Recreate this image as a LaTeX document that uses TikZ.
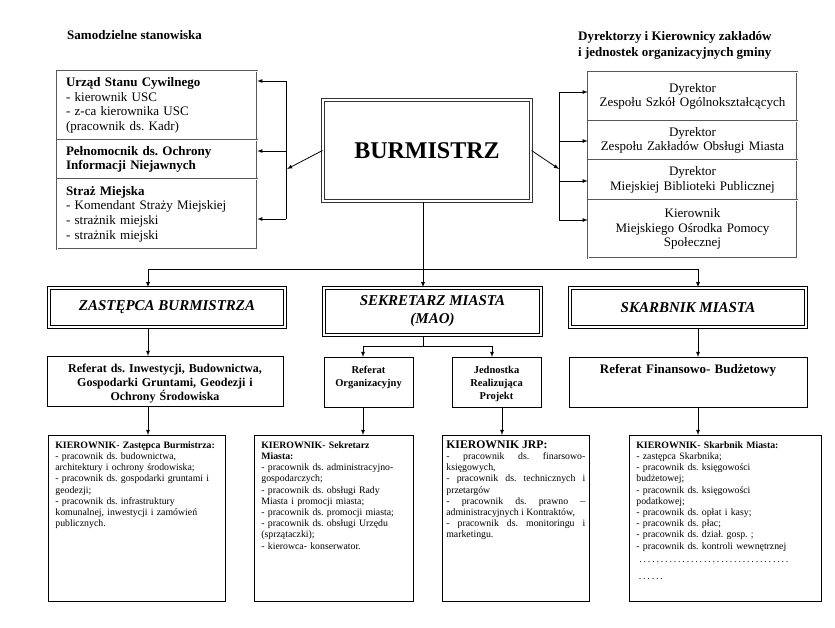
\documentclass[tikz,border=0pt]{standalone}
\usepackage{fontspec}
\setmainfont{Liberation Serif}
\usetikzlibrary{arrows}
\frenchspacing

\begin{document}
\begin{tikzpicture}[x=1pt,y=-1pt]
	\tikzstyle{head}=[inner sep=0pt,font=\bfseries\fontsize{13}{16}\selectfont]
	\tikzstyle{sidebox}=[draw=black!65,line width=0.5pt,double,double distance=0.9pt,inner xsep=9pt,inner ysep=0pt,font=\fontsize{13}{14.6}\selectfont]
	\tikzstyle{chief}=[draw=black!80,line width=1pt,double,double distance=2pt,font=\bfseries\fontsize{24}{28}\selectfont]
	\tikzstyle{deputy}=[draw,line width=1.4pt,double,double distance=1.3pt,align=center,font=\bfseries\itshape\fontsize{15}{18}\selectfont]
	\tikzstyle{unit}=[draw,line width=0.9pt,anchor=north,align=center,inner xsep=5pt,inner ysep=6pt,text height=10pt,text depth=28pt,font=\bfseries\fontsize{12}{14}\selectfont]
	\tikzstyle{staff}=[draw,line width=0.7pt,anchor=north west,align=left,inner xsep=7pt,inner ysep=5pt,text height=8pt,text depth=148pt,font=\fontsize{9.8}{11.2}\selectfont]
	\tikzstyle{link}=[line width=0.8pt]
	\tikzstyle{arr}=[line width=0.8pt,-latex]
	\useasboundingbox (0,0) rectangle (835,627);
	% headings
	\node[head,anchor=base west] (hl) at (67,39) {Samodzielne stanowiska};
	\node[head,anchor=north west,align=left] (hr) at (578,31) {Dyrektorzy i Kierownicy zakładów\\i jednostek organizacyjnych gminy};
	% top row
	\node[chief,minimum width=208pt,minimum height=101pt] (burm) at (427,150.5) {BURMISTRZ};
	\node[sidebox,align=left,text width=182pt,minimum height=69pt] (usc) at (157,105.5) {\textbf{Urząd Stanu Cywilnego}\\- kierownik USC\\- z-ca kierownika USC\\(pracownik ds. Kadr)};
	\node[sidebox,align=left,text width=182pt,minimum height=39pt] (pel) at (157,159.5) {\textbf{Pełnomocnik ds. Ochrony}\\\textbf{Informacji Niejawnych}};
	\node[sidebox,align=left,text width=182pt,minimum height=70pt] (sm) at (157,214) {\textbf{Straż Miejska}\\- Komendant Straży Miejskiej\\- strażnik miejski\\- strażnik miejski};
	\node[sidebox,align=center,text width=191pt,minimum height=49pt] (r1) at (692.5,96.5) {Dyrektor\\Zespołu Szkół Ogólnokształcących};
	\node[sidebox,align=center,text width=191pt,minimum height=39pt] (r2) at (692.5,140.5) {Dyrektor\\Zespołu Zakładów Obsługi Miasta};
	\node[sidebox,align=center,text width=191pt,minimum height=40pt] (r3) at (692.5,180) {Dyrektor\\Miejskiej Biblioteki Publicznej};
	\node[sidebox,align=center,text width=191pt,minimum height=58pt] (r4) at (692.5,229) {Kierownik\\Miejskiego Ośrodka Pomocy\\Społecznej};
	\coordinate (la) at (286,81);
	\coordinate (lb) at (286,151);
	\coordinate (lc) at (286,219);
	\coordinate (lj) at (287,169);
	\draw[link] (la) -- (lc);
	\draw[arr] (la) -- (la -| usc.east);
	\draw[arr] (lb) -- (lb -| pel.east);
	\draw[arr] (lc) -- (lc -| sm.east);
	\draw[arr] (burm.west) -- (lj);
	\coordinate (ra) at (559,92);
	\coordinate (rb) at (559,141);
	\coordinate (rc) at (559,181);
	\coordinate (rd) at (559,220);
	\coordinate (rj) at (559,169);
	\draw[link] (ra) -- (rd);
	\draw[arr] (ra) -- (ra -| r1.west);
	\draw[arr] (rb) -- (rb -| r2.west);
	\draw[arr] (rc) -- (rc -| r3.west);
	\draw[arr] (rd) -- (rd -| r4.west);
	\draw[arr] (burm.east) -- (rj);
	% deputies
	\node[deputy,minimum width=236pt,minimum height=39pt] (zast) at (167,307.5) {ZASTĘPCA BURMISTRZA};
	\node[deputy,minimum width=217pt,minimum height=47pt] (sek) at (432.5,311.5) {SEKRETARZ MIASTA\\(MAO)};
	\node[deputy,minimum width=236pt,minimum height=39pt] (skarb) at (688,307.5) {SKARBNIK MIASTA};
	\coordinate (ca) at (148,269);
	\coordinate (cb) at (698,269);
	\coordinate (cs) at (423,269);
	\draw[link] (ca) -- (cb);
	\draw[arr] (cs |- burm.south) -- (cs |- sek.north);
	\draw[arr] (ca) -- (ca |- zast.north);
	\draw[arr] (cb) -- (cb |- skarb.north);
	% units
	\node[unit,text width=226pt] (ri) at (165,356) {Referat ds. Inwestycji, Budownictwa,\\Gospodarki Gruntami, Geodezji i\\Ochrony Środowiska};
	\node[unit,text width=79pt,font=\bfseries\fontsize{10.5}{13}\selectfont] (ro) at (368.5,357) {Referat\\Organizacyjny};
	\node[unit,text width=79pt,font=\bfseries\fontsize{10.5}{13}\selectfont] (jrp) at (496.5,357) {Jednostka\\Realizująca\\Projekt};
	\node[unit,text width=228pt,font=\bfseries\fontsize{13}{15}\selectfont] (rf) at (688,357) {Referat Finansowo- Budżetowy};
	\coordinate (sj) at (423,346);
	\coordinate (so) at (363,346);
	\coordinate (sr) at (492,346);
	\coordinate (jx) at (502,420);
	\draw[link] (sj |- sek.south) -- (sj);
	\draw[link] (so) -- (sr);
	\draw[arr] (so) -- (so |- ro.north);
	\draw[arr] (sr) -- (sr |- jrp.north);
	\draw[arr] (ca |- zast.south) -- (ca |- ri.north);
	\draw[arr] (cb |- skarb.south) -- (cb |- rf.north);
	% staff
	\node[staff,text width=163pt] (s1) at (48,435) {\textbf{KIEROWNIK- Zastępca Burmistrza:}\\- pracownik ds. budownictwa,\\architektury i ochrony środowiska;\\- pracownik ds. gospodarki gruntami i\\geodezji;\\- pracownik ds. infrastruktury\\komunalnej, inwestycji i zamówień\\publicznych.};
	\node[staff,text width=145pt] (s2) at (254,435) {\textbf{KIEROWNIK- Sekretarz}\\\textbf{Miasta:}\\- pracownik ds. administracyjno-\\gospodarczych;\\- pracownik ds. obsługi Rady\\Miasta i promocji miasta;\\- pracownik ds. promocji miasta;\\- pracownik ds. obsługi Urzędu\\(sprzątaczki);\\- kierowca- konserwator.};
	\node[staff,text width=139pt,inner xsep=4pt,align=justify] (s3) at (442,435) {{\fontsize{11.7}{13}\selectfont\textbf{KIEROWNIK JRP:}}\\- pracownik ds. finarsowo-\linebreak księgowych,\\- pracownik ds. technicznych i\linebreak przetargów\\- pracownik ds. prawno –\linebreak \mbox{administracyjnych i Kontraktów,}\\- pracownik ds. monitoringu i\linebreak marketingu.};
	\node[staff,text width=178pt] (s4) at (629,435) {\textbf{KIEROWNIK- Skarbnik Miasta:}\\- zastępca Skarbnika;\\- pracownik ds. księgowości\\budżetowej;\\- pracownik ds. księgowości\\podatkowej;\\- pracownik ds. opłat i kasy;\\- pracownik ds. płac;\\- pracownik ds. dział. gosp. ;\\- pracownik ds. kontroli wewnętrznej\\[2pt]\makebox[155pt][l]{\dotfill}\\[6pt]\makebox[29pt][l]{\dotfill}};
	\draw[arr] (ca |- ri.south) -- (ca |- s1.north);
	\draw[arr] (so |- ro.south) -- (so |- s2.north);
	\draw[arr] (jx |- jrp.south) -- (jx |- s3.north);
	\draw[arr] (cb |- rf.south) -- (cb |- s4.north);
\end{tikzpicture}
\end{document}
